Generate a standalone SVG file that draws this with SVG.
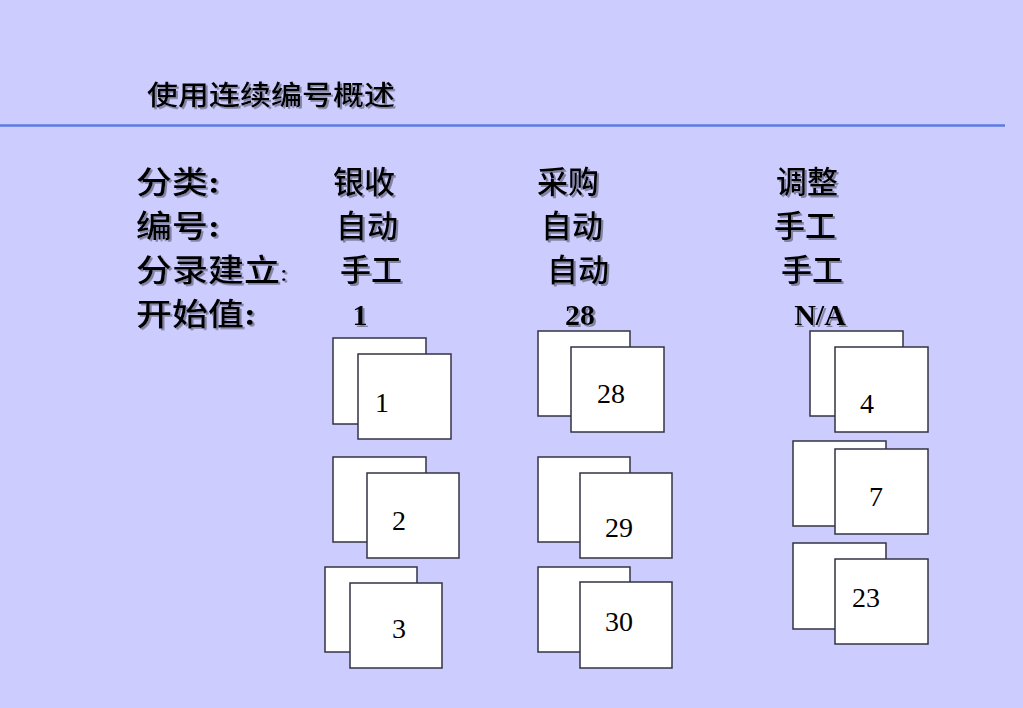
<svg xmlns="http://www.w3.org/2000/svg" width="1023" height="708" viewBox="0 0 1023 708">
<defs>
<filter id="sh" x="-10%" y="-20%" width="130%" height="150%">
<feDropShadow dx="2" dy="2" stdDeviation="0.6" flood-color="#7a7a99" flood-opacity="0.9"/>
</filter>
<style>
.cjk{font-family:"Noto Sans CJK SC","Noto Sans CJK JP",sans-serif;font-weight:500;fill:#000;filter:url(#sh)}
.lab{font-size:36px}
.val{font-size:31px}
.ttl{font-size:31px}
.colb{font-family:"Liberation Serif",serif;font-weight:bold}
.coln{font-family:"Liberation Serif",serif;font-weight:normal;font-size:28px}
.sv{font-family:"Liberation Serif",serif;font-weight:bold;font-size:30px;fill:#000;filter:url(#sh);text-anchor:middle}
.card{fill:#fff;stroke:#333344;stroke-width:1.5}
.num{font-family:"Liberation Serif",serif;font-size:28px;fill:#000;text-anchor:middle}
</style>
</defs>
<rect width="1023" height="708" fill="#ccccff"/>
<g id="title">
<text class="cjk ttl" transform="translate(147,105) scale(1,0.88)">使用连续编号概述</text>
</g>
<line x1="0" y1="125.5" x2="1005" y2="125.5" stroke="#5b7be0" stroke-width="2.5"/>
<g id="labels">
<text class="cjk lab" transform="translate(136,193) scale(1,0.86)">分类<tspan class="colb">:</tspan></text>
<text class="cjk lab" transform="translate(136,237) scale(1,0.86)">编号<tspan class="colb">:</tspan></text>
<text class="cjk lab" transform="translate(136,281) scale(1,0.86)">分录建立<tspan class="coln">:</tspan></text>
<text class="cjk lab" transform="translate(136,325) scale(1,0.86)">开始值<tspan class="colb">:</tspan></text>
</g>
<g id="col-bank">
<text class="cjk val" x="333" y="193">银收</text>
<text class="cjk val" x="336" y="237">自动</text>
<text class="cjk val" x="340" y="281">手工</text>
<text class="sv" x="360" y="325">1</text>
</g>
<g id="col-purchase">
<text class="cjk val" x="537" y="193">采购</text>
<text class="cjk val" x="541" y="237">自动</text>
<text class="cjk val" x="547" y="281">自动</text>
<text class="sv" x="580" y="325">28</text>
</g>
<g id="col-adjust">
<text class="cjk val" x="776" y="193">调整</text>
<text class="cjk val" x="774" y="237">手工</text>
<text class="cjk val" x="781" y="281">手工</text>
<text class="sv" x="820" y="325">N/A</text>
</g>
<g id="stack-1">
<rect class="card" x="333" y="338" width="93" height="86"/>
<rect class="card" x="358" y="354" width="93" height="85"/>
<text class="num" x="382" y="412">1</text>
</g>
<g id="stack-2">
<rect class="card" x="333" y="457" width="93" height="85"/>
<rect class="card" x="367" y="473" width="92" height="85"/>
<text class="num" x="399" y="530">2</text>
</g>
<g id="stack-3">
<rect class="card" x="325" y="567" width="92" height="85"/>
<rect class="card" x="350" y="583" width="92" height="85"/>
<text class="num" x="399" y="638">3</text>
</g>
<g id="stack-28">
<rect class="card" x="538" y="331" width="92" height="85"/>
<rect class="card" x="571" y="347" width="93" height="85"/>
<text class="num" x="611" y="403">28</text>
</g>
<g id="stack-29">
<rect class="card" x="538" y="457" width="92" height="85"/>
<rect class="card" x="580" y="473" width="92" height="85"/>
<text class="num" x="619" y="537">29</text>
</g>
<g id="stack-30">
<rect class="card" x="538" y="567" width="92" height="85"/>
<rect class="card" x="580" y="582" width="92" height="86"/>
<text class="num" x="619" y="631">30</text>
</g>
<g id="stack-4">
<rect class="card" x="810" y="331" width="93" height="85"/>
<rect class="card" x="835" y="347" width="93" height="85"/>
<text class="num" x="867" y="413">4</text>
</g>
<g id="stack-7">
<rect class="card" x="793" y="441" width="93" height="85"/>
<rect class="card" x="835" y="449" width="93" height="85"/>
<text class="num" x="876" y="506">7</text>
</g>
<g id="stack-23">
<rect class="card" x="793" y="543" width="93" height="86"/>
<rect class="card" x="835" y="559" width="93" height="85"/>
<text class="num" x="866" y="607">23</text>
</g>
<g id="connectors"/>
</svg>
